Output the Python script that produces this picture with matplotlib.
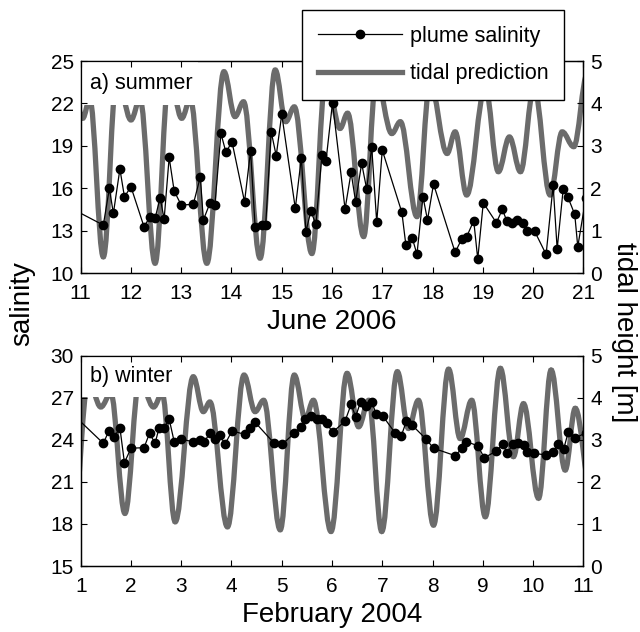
import matplotlib.pyplot as plt
from matplotlib.path import Path
from matplotlib.patches import PathPatch, Rectangle
from matplotlib.lines import Line2D

plt.rcParams['font.family'] = ['Liberation Sans', 'DejaVu Sans']

# a) summer, June 2006: plume salinity samples (day of month, psu)
sum_day = [10.8, 11.45, 11.57, 11.65, 11.78, 11.87, 12.0, 12.26, 12.37, 12.48, 12.58, 12.66,
           12.76, 12.86, 13.0, 13.24, 13.38, 13.44, 13.57, 13.67, 13.79, 13.89, 14.01, 14.26,
           14.38, 14.47, 14.60, 14.68, 14.79, 14.89, 15.0, 15.27, 15.39, 15.48, 15.58, 15.68,
           15.80, 15.88, 16.01, 16.26, 16.38, 16.47, 16.59, 16.69, 16.79, 16.89, 17.0, 17.39,
           17.47, 17.60, 17.69, 17.81, 17.90, 18.02, 18.45, 18.58, 18.68, 18.82, 18.90, 19.01,
           19.27, 19.39, 19.48, 19.58, 19.68, 19.81, 19.88, 20.03, 20.26, 20.40, 20.48, 20.60,
           20.69, 20.83, 20.89, 21.05]
sum_sal = [14.6, 13.39, 15.99, 14.22, 17.36, 15.40, 16.10, 13.27, 13.94, 13.87, 15.33, 13.82,
           18.18, 15.80, 14.81, 14.86, 16.81, 13.75, 14.93, 14.81, 19.88, 18.54, 19.29, 15.04,
           18.65, 13.27, 13.39, 13.39, 20.0, 18.30, 21.23, 14.57, 18.16, 12.92, 14.38, 13.44,
           18.35, 17.92, 22.05, 14.53, 17.12, 15.04, 17.76, 15.94, 18.93, 13.58, 18.70, 14.29,
           11.98, 12.45, 11.32, 15.40, 13.75, 16.30, 11.46, 12.40, 12.57, 13.70, 10.99, 14.97,
           13.56, 14.50, 13.67, 13.54, 13.73, 13.54, 12.97, 12.97, 11.32, 16.2, 11.70, 15.94,
           15.40, 14.15, 11.86, 15.3]

# summer tidal prediction, turning points (day, height in m)
sum_tide_day = [10.8, 11.04, 11.18, 11.45, 11.72, 12.0, 12.18, 12.48, 12.76, 13.01, 13.18,
                13.51, 13.85, 14.07, 14.24, 14.57, 14.87, 15.08, 15.25, 15.60, 15.88, 16.16,
                16.31, 16.63, 16.88, 17.19, 17.36, 17.69, 17.95, 18.29, 18.45, 18.68, 19.05,
                19.31, 19.53, 19.75, 20.02, 20.34, 20.58, 20.81, 21.08]
sum_tide_h = [4.7, 3.65, 4.1, 0.38, 4.7, 3.61, 4.1, 0.23, 4.7, 3.65, 4.1,
              0.23, 4.75, 3.69, 4.04, 0.35, 4.79, 3.57, 3.92, 0.46, 4.7, 3.41,
              3.77, 0.86, 4.6, 3.29, 3.57, 1.33, 4.5, 2.82, 3.33, 1.84, 4.4,
              2.39, 3.21, 2.39, 4.4, 1.84, 3.33, 2.98, 4.7]

# b) winter, February 2004
win_day = [0.85, 1.45, 1.56, 1.67, 1.78, 1.87, 2.0, 2.26, 2.37, 2.48, 2.56, 2.66, 2.76, 2.86,
           3.0, 3.23, 3.38, 3.46, 3.57, 3.67, 3.77, 3.87, 4.01, 4.27, 4.37, 4.47, 4.85, 5.01,
           5.25, 5.39, 5.47, 5.58, 5.70, 5.80, 5.90, 6.01, 6.26, 6.38, 6.47, 6.57, 6.68, 6.79,
           6.88, 7.01, 7.26, 7.38, 7.48, 7.59, 7.87, 8.02, 8.45, 8.59, 8.67, 8.90, 9.03, 9.27,
           9.40, 9.48, 9.60, 9.70, 9.83, 9.88, 10.01, 10.26, 10.40, 10.50, 10.61, 10.70, 10.83,
           11.05]
win_sal = [25.8, 23.75, 24.63, 24.22, 24.86, 22.37, 23.40, 23.44, 24.47, 23.75, 24.86, 24.86,
           25.48, 23.87, 24.04, 23.87, 23.99, 23.87, 24.47, 24.04, 24.34, 23.68, 24.63, 24.39,
           24.82, 25.25, 23.75, 23.68, 24.47, 24.94, 25.48, 25.70, 25.48, 25.48, 25.18, 24.53,
           25.34, 26.53, 25.65, 26.72, 26.43, 26.72, 25.82, 25.70, 24.47, 24.29, 25.34, 25.06,
           24.06, 23.40, 22.87, 23.40, 23.87, 23.58, 22.72, 23.20, 23.70, 23.04, 23.68, 23.75,
           23.63, 23.15, 23.04, 22.92, 23.15, 23.68, 23.35, 24.54, 24.11, 24.5]

win_tide_day = [0.87, 1.15, 1.40, 1.60, 1.88, 2.17, 2.45, 2.62, 2.88, 3.24, 3.44, 3.57, 3.92,
                4.25, 4.47, 4.64, 4.97, 5.25, 5.47, 5.63, 5.98, 6.30, 6.53, 6.73, 6.99, 7.30,
                7.52, 7.72, 8.02, 8.32, 8.55, 8.78, 9.05, 9.35, 9.61, 9.81, 10.11, 10.36,
                10.64, 10.84, 11.15]
win_tide_h = [1.3, 4.45, 3.78, 4.1, 1.25, 4.45, 3.78, 4.1, 1.05, 4.50, 3.67, 3.90, 0.93,
              4.54, 3.67, 3.94, 0.86, 4.54, 3.5, 3.94, 0.82, 4.58, 3.31, 3.94, 0.82, 4.62,
              3.27, 3.94, 0.97, 4.68, 3.03, 3.94, 1.17, 4.70, 2.60, 3.86, 1.61, 4.66,
              2.28, 3.75, 1.8]

GRAY = '#6b6b6b'
TIDE_LW = 3.8


def tide_path(days, heights, k=0.364):
    # smooth curve through the turning points (flat tangents at each extremum)
    verts = [(days[0], heights[0])]
    codes = [Path.MOVETO]
    for i in range(1, len(days)):
        d = days[i] - days[i - 1]
        verts += [(days[i - 1] + k * d, heights[i - 1]),
                  (days[i] - k * d, heights[i]),
                  (days[i], heights[i])]
        codes += [Path.CURVE4] * 3
    return Path(verts, codes)


def panel(ax, day, sal, tday, th, xlim, ylim, label, box, xlabel):
    ax2 = ax.twinx()
    ax2.add_patch(PathPatch(tide_path(tday, th), fill=False, edgecolor=GRAY,
                            lw=TIDE_LW, capstyle='butt'))
    ax2.set_ylim(0, 5)
    ax2.set_yticks(range(6))
    ax.set_zorder(ax2.get_zorder() + 1)
    ax.patch.set_visible(False)

    ax.plot(day, sal, '-o', color='k', lw=0.9, ms=6)
    ax.set_xlim(*xlim)
    ax.set_ylim(*ylim)
    ax.set_xticks(range(xlim[0], xlim[1] + 1))
    ax.set_yticks(range(ylim[0], ylim[1] + 1, 3))

    # white label box hiding the tide curve underneath
    ax.add_patch(Rectangle((0, 1 - box[1]), box[0], box[1], transform=ax.transAxes,
                           facecolor='white', edgecolor='none', zorder=1))
    ax.text(0.019, 1 - box[1] / 2, label, transform=ax.transAxes, fontsize=15.5,
            va='center', ha='left', zorder=3)

    ax.set_xlabel(xlabel, fontsize=20, labelpad=4)
    ax.tick_params(axis='both', direction='in', length=4, width=0.8, labelsize=15,
                   top=True)
    ax.tick_params(axis='x', pad=8)
    ax.tick_params(axis='y', pad=5)
    ax2.tick_params(axis='y', direction='in', length=4, width=0.8, labelsize=15, pad=5)
    for a in (ax, ax2):
        for s in a.spines.values():
            s.set_linewidth(0.9)
    return ax2


fig = plt.figure(figsize=(6.4, 6.32), dpi=100)
ax_top = fig.add_axes([0.1261, 0.5680, 0.7853, 0.3354])
ax_bot = fig.add_axes([0.1261, 0.1044, 0.7853, 0.3328])

panel(ax_top, sum_day, sum_sal, sum_tide_day, sum_tide_h, (11, 21), (10, 25),
      'a) summer', (0.233, 0.208), 'June 2006')
panel(ax_bot, win_day, win_sal, win_tide_day, win_tide_h, (1, 11), (15, 30),
      'b) winter', (0.204, 0.196), 'February 2004')

fig.text(0.034, 0.519, 'salinity', rotation=90, fontsize=20, ha='center', va='center')
fig.text(0.975, 0.475, 'tidal height [m]', rotation=270, fontsize=20, ha='center',
         va='center')

handles = [Line2D([], [], color='k', lw=0.9, marker='o', ms=6),
           Line2D([], [], color=GRAY, lw=TIDE_LW)]
leg = fig.legend(handles, ['plume salinity', 'tidal prediction'], loc='upper left',
                 bbox_to_anchor=(0.472, 0.984), frameon=True, fancybox=False,
                 edgecolor='k', framealpha=1, fontsize=15.5, handlelength=3.9,
                 handletextpad=0.4, borderpad=0.72, labelspacing=0.78, borderaxespad=0)
leg.get_frame().set_linewidth(1.0)

fig.savefig('out.png', dpi=100)
